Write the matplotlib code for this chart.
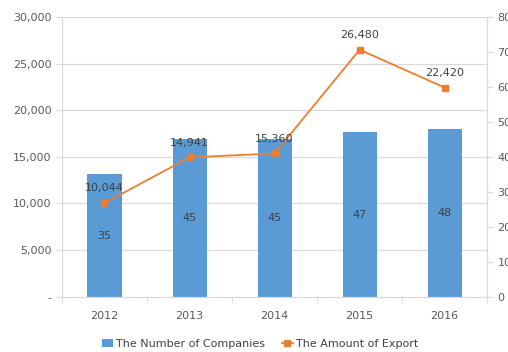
import matplotlib
matplotlib.use('Agg')
import matplotlib.pyplot as plt
import numpy as np

years = ['2012', '2013', '2014', '2015', '2016']
companies = [35, 45, 45, 47, 48]
exports = [10044, 14941, 15360, 26480, 22420]

bar_color = '#5B9BD5'
line_color = '#ED7D31'
grid_color = '#D9D9D9'
text_color = '#595959'

plt.rcParams['font.family'] = ['DejaVu Sans']
plt.rcParams['font.size'] = 8

fig = plt.figure(figsize=(5.08, 3.52), dpi=100)
ax = fig.add_axes([0.122, 0.157, 0.837, 0.795])  # left axis: export amount
ax2 = ax.twinx()                                   # right axis: companies

x = np.arange(len(years))

# bars belong to the right axis, but draw them under the line
ax2.set_zorder(0)
ax.set_zorder(1)
ax.patch.set_visible(False)

bars = ax2.bar(x, companies, width=0.4, color=bar_color, zorder=2,
               label='The Number of Companies')
ax2.bar_label(bars, labels=[str(v) for v in companies], label_type='center',
              color='#404040', fontsize=8)

line, = ax.plot(x, exports, color=line_color, lw=1.3, marker='s', ms=4.5,
                label='The Amount of Export', zorder=3)
for xi, v in zip(x, exports):
    ax.annotate(f'{v:,}', (xi, v), xytext=(0, 7), textcoords='offset points',
                ha='center', va='bottom', color='#404040', fontsize=8)

ax.set_xlim(-0.5, len(years) - 0.5)
ax.set_ylim(0, 30000)
ax2.set_ylim(0, 80)
ax.set_yticks(range(0, 30001, 5000))
ax.set_yticklabels(['-'] + [f'{v:,}' for v in range(5000, 30001, 5000)])
ax2.set_yticks(range(0, 81, 10))

ax.set_xticks(x)
ax.set_xticklabels(years)
ax.set_xticks(np.arange(-0.5, len(years)), minor=True)
ax.tick_params(axis='x', which='major', length=0, pad=10, colors=text_color)
ax.tick_params(axis='x', which='minor', length=4, color=grid_color)
ax.tick_params(axis='y', length=4, color=grid_color, labelcolor=text_color)
ax2.tick_params(axis='y', length=4, color=grid_color, labelcolor=text_color)

# gridlines follow the left axis; draw them on ax2 so they sit under the bars
for v in range(5000, 30001, 5000):
    ax2.axhline(v / 30000 * 80, color=grid_color, lw=0.9, zorder=0)

for a in (ax, ax2):
    a.spines['top'].set_visible(False)
    for s in ('left', 'right', 'bottom'):
        a.spines[s].set_color(grid_color)

handles = [bars, line]
fig.legend(handles, [h.get_label() for h in handles], loc='lower center',
           bbox_to_anchor=(0.512, -0.02), ncol=2, frameon=False,
           handlelength=1.0, handletextpad=0.3, columnspacing=1.5,
           labelcolor='#404040')

fig.savefig('out.png', dpi=100)
